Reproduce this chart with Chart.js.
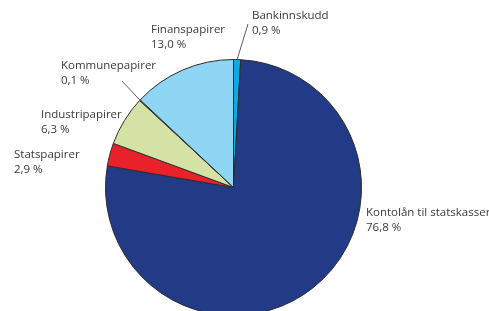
<!DOCTYPE html>
<html>
<head>
<meta charset="utf-8">
<script src="https://cdn.jsdelivr.net/npm/chart.js@4"></script>
<style>
    html, body { margin: 0; padding: 0; background: #fff; overflow: hidden; }
    #wrap { width: 489px; height: 311px; overflow: hidden; }
</style>
</head>
<body>
<div id="wrap"><canvas id="pieChart" width="489" height="320"></canvas></div>
<script>
// Data, clockwise from 12 o'clock
const categories = ['Bankinnskudd', 'Kontolån til statskasser', 'Statspapirer', 'Industripapirer', 'Kommunepapirer', 'Finanspapirer'];
const shares = [0.9, 76.8, 2.9, 6.3, 0.1, 13.0];
const shareLabels = ['0,9 %', '76,8 %', '2,9 %', '6,3 %', '0,1 %', '13,0 %'];
const sliceColors = ['#0fa8e3', '#233a87', '#e8212b', '#d4e2a5', '#e3a21a', '#8fd6f5'];

// Label placement (text top-left) and optional leader line end
const labelPos = [
    { x: 252, y: 10, lineTo: { x: 248, y: 24 } },
    { x: 366, y: 207 },
    { x: 14, y: 149 },
    { x: 41, y: 109 },
    { x: 61, y: 60, lineTo: { x: 122, y: 81 } },
    { x: 151, y: 24 }
];

const labelPlugin = {
    id: 'sliceLabels',
    afterDraw(chart) {
        const ctx = chart.ctx;
        const arcs = chart.getDatasetMeta(0).data;
        ctx.save();
        ctx.font = '11.5px "Open Sans"';
        ctx.fillStyle = '#3a3a3a';
        ctx.textBaseline = 'top';
        arcs.forEach((arc, i) => {
            const p = labelPos[i];
            if (p.lineTo) {
                const mid = (arc.startAngle + arc.endAngle) / 2;
                const sx = arc.x + Math.cos(mid) * arc.outerRadius;
                const sy = arc.y + Math.sin(mid) * arc.outerRadius;
                ctx.beginPath();
                ctx.strokeStyle = '#333';
                ctx.lineWidth = 0.8;
                ctx.moveTo(sx, sy);
                ctx.lineTo(p.lineTo.x, p.lineTo.y);
                ctx.stroke();
            }
            ctx.fillText(categories[i], p.x, p.y);
            ctx.fillText(shareLabels[i], p.x, p.y + 15);
        });
        ctx.restore();
    }
};

const ctx = document.getElementById('pieChart').getContext('2d');
new Chart(ctx, {
    type: 'pie',
    data: {
        labels: categories,
        datasets: [{
            data: shares,
            backgroundColor: sliceColors,
            borderColor: '#2b2b2b',
            borderWidth: 1
        }]
    },
    options: {
        responsive: false,
        animation: false,
        layout: {
            padding: { left: 105, right: 127, top: 59, bottom: 4 }
        },
        plugins: {
            legend: { display: false },
            tooltip: { enabled: false }
        }
    },
    plugins: [labelPlugin]
});
</script>
</body>
</html>
